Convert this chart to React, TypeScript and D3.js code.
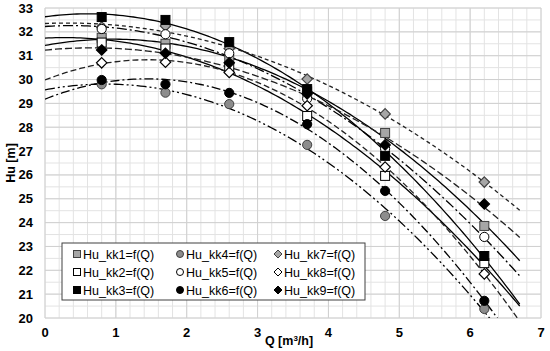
import React from 'react';
import * as d3 from 'd3';

const flows = [0.8, 1.7, 2.6, 3.7, 4.8, 6.2];

const hu_kk1 = [31.75, 31.5, 30.85, 29.5, 27.76, 23.86];
const hu_kk2 = [31.55, 31.3, 30.5, 28.47, 25.96, 22.3];
const hu_kk3 = [32.62, 32.5, 31.57, 29.6, 26.8, 22.6];
const hu_kk4 = [29.8, 29.45, 28.97, 27.26, 24.28, 20.38];
const hu_kk5 = [32.12, 31.9, 31.1, 29.2, 27.1, 23.4];
const hu_kk6 = [29.98, 29.8, 29.44, 28.13, 25.33, 20.72];
const hu_kk7 = [32.2, 32.25, 31.3, 30.02, 28.56, 25.7];
const hu_kk8 = [30.7, 30.73, 30.3, 28.9, 26.33, 21.85];
const hu_kk9 = [31.24, 31.1, 30.7, 29.4, 27.26, 24.78];

const seriesNames = [
  'Hu_kk1=f(Q)', 'Hu_kk2=f(Q)', 'Hu_kk3=f(Q)',
  'Hu_kk4=f(Q)', 'Hu_kk5=f(Q)', 'Hu_kk6=f(Q)',
  'Hu_kk7=f(Q)', 'Hu_kk8=f(Q)', 'Hu_kk9=f(Q)',
];
const seriesValues = [hu_kk1, hu_kk2, hu_kk3, hu_kk4, hu_kk5, hu_kk6, hu_kk7, hu_kk8, hu_kk9];

const xTicks = [0, 1, 2, 3, 4, 5, 6, 7];
const yTicks = [20, 21, 22, 23, 24, 25, 26, 27, 28, 29, 30, 31, 32, 33];

// marker shape / fill and trendline dash per series
const shapes = ['square', 'square', 'square', 'circle', 'circle', 'circle', 'diamond', 'diamond', 'diamond'];
const fills = ['#a6a6a6', '#ffffff', '#000000', '#8c8c8c', '#ffffff', '#000000', '#a6a6a6', '#ffffff', '#000000'];
const dashes = ['', '', '', '10,3,2,3,2,3', '10,3,2,3', '9,3,2,3', '4,3', '6,3', '7,3'];
// order the markers are stacked in (last on top)
const markerOrder = [6, 0, 1, 3, 4, 5, 7, 8, 2];

const width = 550;
const height = 351;
const left = 45;
const right = 541;
const top = 8;
const bottom = 318;

// least-squares quadratic (the chart's polynomial trendlines)
function quadFit(xs: number[], ys: number[]) {
  const n = xs.length;
  let s1 = 0, s2 = 0, s3 = 0, s4 = 0, t0 = 0, t1 = 0, t2 = 0;
  for (let i = 0; i < n; i++) {
    const x = xs[i], y = ys[i];
    s1 += x; s2 += x * x; s3 += x * x * x; s4 += x * x * x * x;
    t0 += y; t1 += x * y; t2 += x * x * y;
  }
  const m = [
    [n, s1, s2, t0],
    [s1, s2, s3, t1],
    [s2, s3, s4, t2],
  ];
  for (let c = 0; c < 3; c++) {
    for (let r = c + 1; r < 3; r++) {
      const f = m[r][c] / m[c][c];
      for (let k = c; k < 4; k++) m[r][k] -= f * m[c][k];
    }
  }
  const a = [0, 0, 0];
  for (let r = 2; r >= 0; r--) {
    let s = m[r][3];
    for (let k = r + 1; k < 3; k++) s -= m[r][k] * a[k];
    a[r] = s / m[r][r];
  }
  return (x: number) => a[0] + a[1] * x + a[2] * x * x;
}

function Marker({ shape, x, y, fill }: { shape: string; x: number; y: number; fill: string }) {
  const stroke = fill === '#000000' ? '#000' : fill === '#ffffff' ? '#000' : '#404040';
  if (shape === 'square') {
    return <rect x={x - 4.5} y={y - 4.5} width={9} height={9} fill={fill} stroke={stroke} strokeWidth={1} />;
  }
  if (shape === 'circle') {
    return <circle cx={x} cy={y} r={4.6} fill={fill} stroke={stroke} strokeWidth={1} />;
  }
  const s = 5.2;
  return (
    <path
      d={`M${x},${y - s}L${x + s},${y}L${x},${y + s}L${x - s},${y}Z`}
      fill={fill}
      stroke={stroke}
      strokeWidth={1.2}
    />
  );
}

const App = () => {
  const x = d3.scaleLinear().domain([0, 7]).range([left, right]);
  const y = d3.scaleLinear().domain([20, 33]).range([bottom, top]);

  const xMinor = d3.range(0, 7.0001, 0.2);
  const yMinor = d3.range(20, 33.0001, 0.5);

  const curveXs = d3.range(0, 6.7001, 0.05);
  const line = d3.line<number[]>().x(d => x(d[0])).y(d => y(d[1]));

  const font = '"Liberation Sans", Arial, sans-serif';

  const legendCols = [77, 180, 278];
  const legendRows = [254, 272, 290];

  return (
    <svg width={width} height={height} style={{ position: 'absolute', left: 0, top: 0, background: '#fff' }}>
      <defs>
        <clipPath id="plotclip">
          <rect x={left} y={top} width={right - left} height={bottom - top} />
        </clipPath>
      </defs>
      {/* grid */}
      <g stroke="#e3e3e3" strokeWidth={1}>
        {xMinor.map((v, i) => (
          <line key={'gx' + i} x1={x(v)} x2={x(v)} y1={top} y2={bottom} />
        ))}
        {yMinor.map((v, i) => (
          <line key={'gy' + i} x1={left} x2={right} y1={y(v)} y2={y(v)} />
        ))}
      </g>
      <g stroke="#d0d0d0" strokeWidth={1}>
        {xTicks.map(v => (
          <line key={'mx' + v} x1={x(v)} x2={x(v)} y1={top} y2={bottom} />
        ))}
        {yTicks.map(v => (
          <line key={'my' + v} x1={left} x2={right} y1={y(v)} y2={y(v)} />
        ))}
      </g>

      {/* trendlines */}
      <g clipPath="url(#plotclip)" fill="none">
        {seriesValues.map((vals, i) => {
          const f = quadFit(flows, vals);
          const pts = curveXs.map(q => [q, f(q)]);
          return (
            <path
              key={'t' + i}
              d={line(pts) || ''}
              stroke={i >= 6 ? '#222' : '#000'}
              strokeWidth={1.3}
              strokeDasharray={dashes[i] || undefined}
            />
          );
        })}
      </g>

      {/* markers */}
      <g>
        {markerOrder.map(i =>
          seriesValues[i].map((v, j) => (
            <Marker key={'m' + i + '-' + j} shape={shapes[i]} x={x(flows[j])} y={y(v)} fill={fills[i]} />
          ))
        )}
      </g>

      {/* axes labels */}
      <g fontFamily={font} fontWeight="bold" fontSize={13} fill="#000">
        {yTicks.map(v => (
          <text key={'yl' + v} x={33} y={y(v) + 4.5} textAnchor="end">{v}</text>
        ))}
        {xTicks.map(v => (
          <text key={'xl' + v} x={x(v)} y={337} textAnchor="middle">{v}</text>
        ))}
        <text x={289} y={345} textAnchor="middle" fontSize={12.5}>
          Q [m<tspan baselineShift="super" fontSize={8}>3</tspan>/h]
        </text>
        <text transform={`translate(15,${163}) rotate(-90)`} textAnchor="middle" fontSize={12.5}>Hu [m]</text>
      </g>

      {/* legend */}
      <rect x={62} y={243} width={303} height={57} fill="#fff" stroke="#404040" strokeWidth={1} />
      <g fontFamily={font} fontSize={12.5} fill="#000">
        {seriesNames.map((name, i) => {
          const cx = legendCols[Math.floor(i / 3)];
          const cy = legendRows[i % 3];
          const sh = shapes[i];
          const fill = fills[i];
          const stroke = fill === '#8c8c8c' || fill === '#a6a6a6' ? '#404040' : '#000';
          return (
            <g key={'lg' + i}>
              {sh === 'square' && <rect x={cx - 3.5} y={cy - 3.5} width={7} height={7} fill={fill} stroke={stroke} />}
              {sh === 'circle' && <circle cx={cx} cy={cy} r={3.5} fill={fill} stroke={stroke} />}
              {sh === 'diamond' && (
                <path d={`M${cx},${cy - 4}L${cx + 4},${cy}L${cx},${cy + 4}L${cx - 4},${cy}Z`} fill={fill} stroke={stroke} />
              )}
              <text x={cx + 6} y={cy + 4.5}>{name}</text>
            </g>
          );
        })}
      </g>
    </svg>
  );
};

export default App;
